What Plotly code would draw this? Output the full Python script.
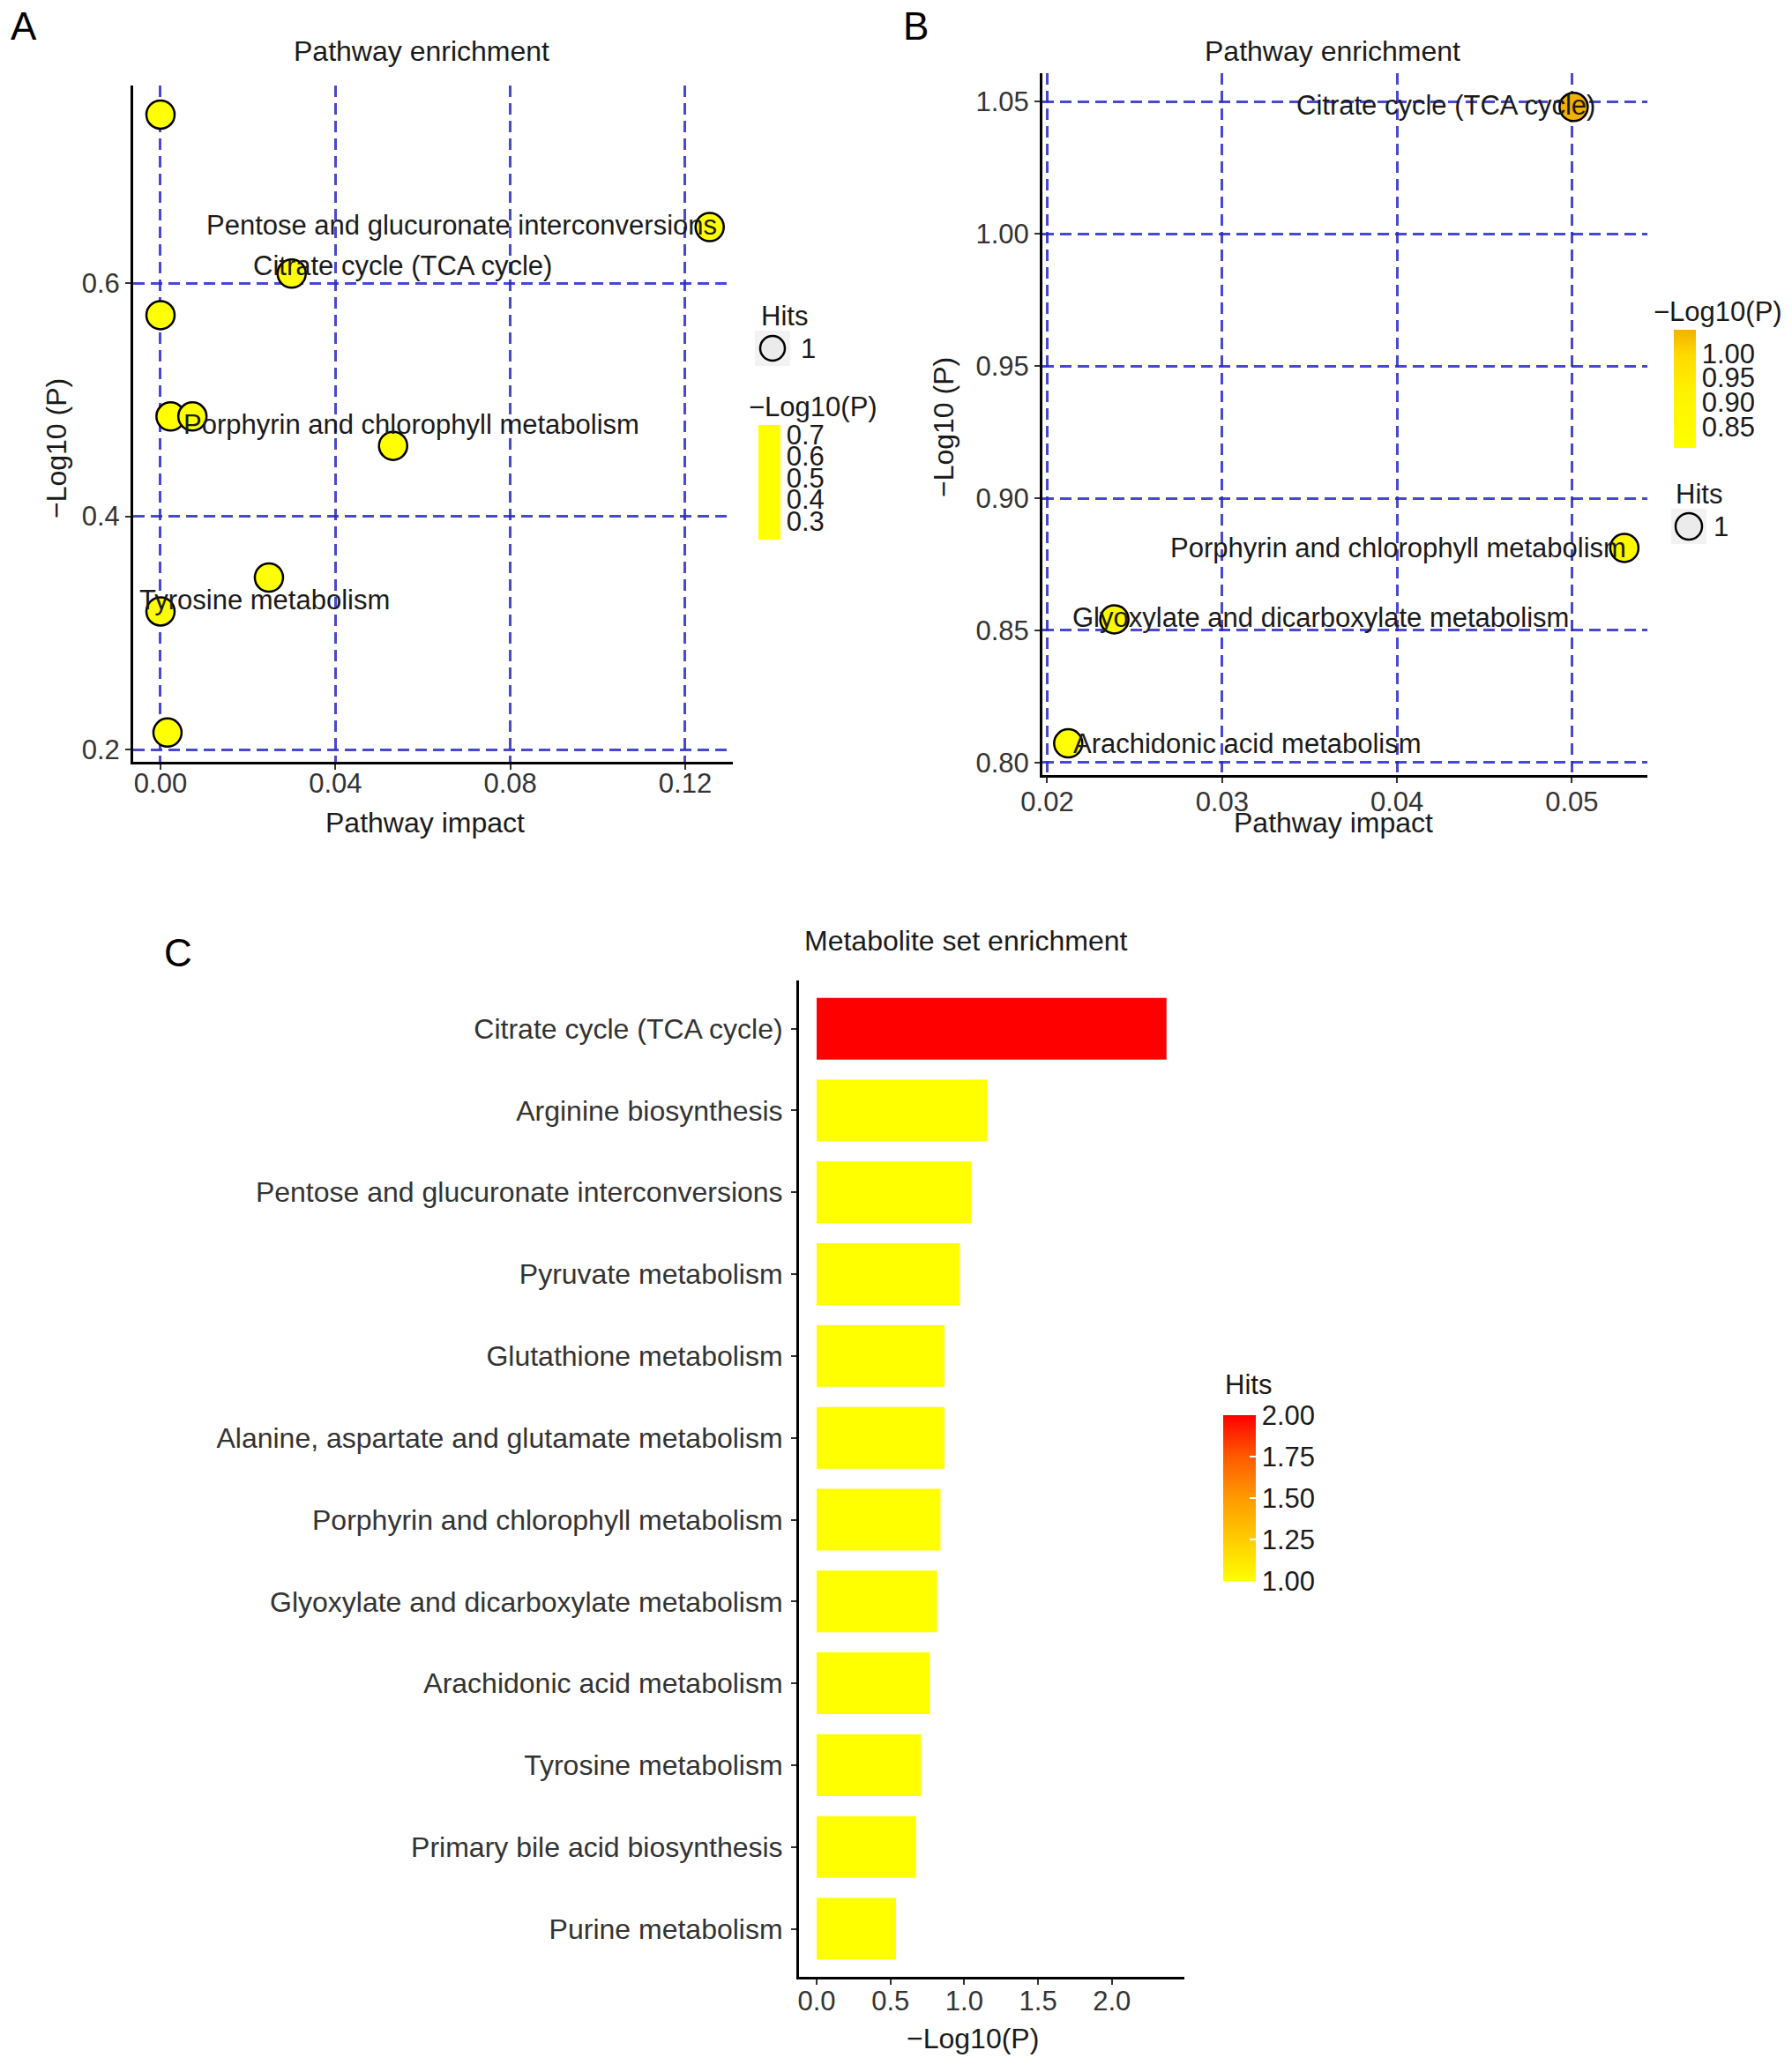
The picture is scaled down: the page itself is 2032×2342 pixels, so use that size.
import plotly.graph_objects as go

W, H = 2032, 2342
FONT = "Liberation Sans, Arial, Helvetica, sans-serif"

# ---------------- data ----------------
# Panel A: pathway enrichment (group 1)
a_impact = [0.0, 0.1256, 0.0300, 0.0, 0.0023, 0.0073, 0.0532, 0.0248, 0.0, 0.0016]
a_logp = [0.7445, 0.6480, 0.6081, 0.5725, 0.4856, 0.4856, 0.4604, 0.3475, 0.3184, 0.2145]
a_labels = ["", "Pentose and glucuronate interconversions", "Citrate cycle (TCA cycle)", "", "",
            "Porphyrin and chlorophyll metabolism", "", "", "Tyrosine metabolism", ""]
a_hits = [1, 1, 1, 1, 1, 1, 1, 1, 1, 1]
a_xticks = [0.00, 0.04, 0.08, 0.12]
a_xticktext = ["0.00", "0.04", "0.08", "0.12"]
a_yticks = [0.2, 0.4, 0.6]
a_yticktext = ["0.2", "0.4", "0.6"]
a_cbticks = [0.3, 0.4, 0.5, 0.6, 0.7]

# Panel B: pathway enrichment (group 2)
b_impact = [0.0501, 0.0530, 0.02384, 0.0212]
b_logp = [1.0479, 0.8812, 0.8542, 0.8073]
b_labels = ["Citrate cycle (TCA cycle)", "Porphyrin and chlorophyll metabolism",
            "Glyoxylate and dicarboxylate metabolism", "Arachidonic acid metabolism"]
b_hits = [1, 1, 1, 1]
b_xticks = [0.02, 0.03, 0.04, 0.05]
b_xticktext = ["0.02", "0.03", "0.04", "0.05"]
b_yticks = [0.80, 0.85, 0.90, 0.95, 1.00, 1.05]
b_yticktext = ["0.80", "0.85", "0.90", "0.95", "1.00", "1.05"]
b_cbticks = [0.85, 0.90, 0.95, 1.00]

# Panel C: metabolite set enrichment
c_sets = ["Citrate cycle (TCA cycle)", "Arginine biosynthesis",
          "Pentose and glucuronate interconversions", "Pyruvate metabolism",
          "Glutathione metabolism", "Alanine, aspartate and glutamate metabolism",
          "Porphyrin and chlorophyll metabolism", "Glyoxylate and dicarboxylate metabolism",
          "Arachidonic acid metabolism", "Tyrosine metabolism",
          "Primary bile acid biosynthesis", "Purine metabolism"]
c_logp = [2.37, 1.155, 1.048, 0.971, 0.866, 0.866, 0.839, 0.816, 0.766, 0.708, 0.673, 0.538]
c_hits = [2, 1, 1, 1, 1, 1, 1, 1, 1, 1, 1, 1]
c_xticks = [0.0, 0.5, 1.0, 1.5, 2.0]
c_xticktext = ["0.0", "0.5", "1.0", "1.5", "2.0"]
c_cbticks = [1.00, 1.25, 1.50, 1.75, 2.00]
c_cbticktext = ["1.00", "1.25", "1.50", "1.75", "2.00"]

# ---------------- helpers ----------------
def fx(p):
    return p / W


def fy(p):
    return 1 - p / H


GRID = "rgba(40,40,200,0.85)"
DASH = "13px,7px"
TICKC = "#333333"
TXT = "#1a1a1a"
FS = 31
MS = 32

fig = go.Figure()

# ----- Panel A scatter -----
fig.add_trace(go.Scatter(
    x=a_impact, y=a_logp, mode="markers", xaxis="x", yaxis="y",
    marker=dict(size=MS, color=a_logp, cmin=min(a_logp), cmax=max(a_logp),
                colorscale=[[0, "#FFFF00"], [1, "#FFFF00"]],
                line=dict(color="black", width=2.5),
                colorbar=dict(x=fx(860), xanchor="left", y=fy(482), yanchor="top",
                              lenmode="pixels", len=130, thickness=25,
                              xpad=0, ypad=0, outlinewidth=0,
                              tickvals=a_cbticks, ticktext=[str(v) for v in a_cbticks],
                              ticks="", tickfont=dict(size=FS, color=TXT, family=FONT))),
    showlegend=False, hoverinfo="skip"))

# ----- Panel B scatter -----
fig.add_trace(go.Scatter(
    x=b_impact, y=b_logp, mode="markers", xaxis="x2", yaxis="y2",
    marker=dict(size=MS, color=b_logp, cmin=min(b_logp), cmax=max(b_logp),
                colorscale=[[0, "#FFFF00"], [0.45, "#FFF300"], [0.78, "#FFDB00"], [1, "#F5B000"]],
                line=dict(color="black", width=2.5),
                colorbar=dict(x=fx(1898), xanchor="left", y=fy(374), yanchor="top",
                              lenmode="pixels", len=134, thickness=25,
                              xpad=0, ypad=0, outlinewidth=0,
                              tickvals=b_cbticks, ticktext=["%.2f" % v for v in b_cbticks],
                              ticks="", tickfont=dict(size=FS, color=TXT, family=FONT))),
    showlegend=False, hoverinfo="skip"))

# ----- Panel C bars -----
fig.add_trace(go.Bar(
    x=c_logp, y=c_sets, orientation="h", xaxis="x3", yaxis="y3", width=0.754,
    marker=dict(color=c_hits, cmin=1, cmax=2,
                colorscale=[[0, "#FFFF00"], [0.25, "#FFCC00"], [0.5, "#FF9A00"],
                            [0.75, "#FF5A00"], [1, "#FF0000"]],
                line=dict(width=0),
                colorbar=dict(x=fx(1387), xanchor="left", y=fy(1605), yanchor="top",
                              lenmode="pixels", len=188, thickness=37,
                              xpad=0, ypad=0, outlinewidth=0,
                              tickvals=c_cbticks, ticktext=c_cbticktext,
                              ticks="inside", ticklen=7, tickcolor="white", tickwidth=1.5,
                              tickfont=dict(size=FS, color=TXT, family=FONT))),
    showlegend=False, hoverinfo="skip"))

axis_common = dict(showline=True, linecolor="black", linewidth=3, mirror=False,
                   ticks="outside", ticklen=6, tickwidth=2, tickcolor="#333333",
                   tickfont=dict(size=FS, color=TICKC, family=FONT), zeroline=False,
                   automargin=False)

fig.update_layout(
    width=W, height=H, margin=dict(l=0, r=0, t=0, b=0, autoexpand=False),
    paper_bgcolor="white", plot_bgcolor="white",
    font=dict(family=FONT, color=TXT, size=FS),
    xaxis=dict(domain=[fx(151), fx(831)], range=[-0.00625, 0.1309], anchor="y",
               tickvals=a_xticks, ticktext=a_xticktext, ticklabelstandoff=-11,
               showgrid=True, gridcolor=GRID, gridwidth=2.5, griddash=DASH, **axis_common),
    yaxis=dict(domain=[fy(863.5), fy(97)], range=[0.1898, 0.7694], anchor="x",
               tickvals=a_yticks, ticktext=a_yticktext,
               showgrid=True, gridcolor=GRID, gridwidth=2.5, griddash=DASH, **axis_common),
    xaxis2=dict(domain=[fx(1182), fx(1868)], range=[0.019723, 0.054316], anchor="y2",
                tickvals=b_xticks, ticktext=b_xticktext, ticklabelstandoff=-6,
                showgrid=True, gridcolor=GRID, gridwidth=2.5, griddash=DASH, **axis_common),
    yaxis2=dict(domain=[fy(879.3), fy(83)], range=[0.79523, 1.06067], anchor="x2",
                tickvals=b_yticks, ticktext=b_yticktext,
                showgrid=True, gridcolor=GRID, gridwidth=2.5, griddash=DASH, **axis_common),
    xaxis3=dict(domain=[fx(906), fx(1343)], range=[-0.1195, 2.491], anchor="y3",
                tickvals=c_xticks, ticktext=c_xticktext, ticklabelstandoff=-8,
                showgrid=False, **axis_common),
    yaxis3=dict(domain=[fy(2242), fy(1112)], range=[11.587, -0.589], anchor="x3",
                type="category", categoryorder="array", categoryarray=c_sets,
                showgrid=False, ticklabelstandoff=3, **axis_common),
)
fig.update_yaxes(tickfont=dict(size=32, color=TICKC, family=FONT), selector=dict(anchor="x3"))

ann = []


def text(x, y, s, size=FS, xanchor="center", angle=0, color=TXT):
    ann.append(dict(x=fx(x), y=fy(y), xref="paper", yref="paper", text=s, showarrow=False,
                    xanchor=xanchor, yanchor="middle", textangle=angle,
                    font=dict(size=size, color=color, family=FONT)))


# panel letters
text(27, 30, "A", size=44, color="black")
text(1038, 30, "B", size=44, color="black")
text(202, 1080, "C", size=44, color="black")

# titles
text(478, 58, "Pathway enrichment", size=32)
text(1511, 58, "Pathway enrichment", size=32)
text(1095, 1067, "Metabolite set enrichment", size=32)

# axis titles
text(482, 933, "Pathway impact", size=32)
text(64, 509, "\u2212Log10 (P)", size=32, angle=-90)
text(1512, 933, "Pathway impact", size=32)
text(1070, 485, "\u2212Log10 (P)", size=32, angle=-90)
text(1103, 2312, "\u2212Log10(P)", size=32)

# legend titles
text(847, 462, "\u2212Log10(P)", xanchor="left")
text(861, 358, "Hits", xanchor="left")
text(1873, 353, "\u2212Log10(P)", xanchor="left")
text(1898, 560, "Hits", xanchor="left")
text(1387, 1570, "Hits", xanchor="left")
text(906, 395, "1", xanchor="left")
text(1941, 597, "1", xanchor="left")

# point labels (offsets in pixels from their points)
a_shift = {"Pentose and glucuronate interconversions": (-281, 2),
           "Citrate cycle (TCA cycle)": (126, 9),
           "Porphyrin and chlorophyll metabolism": (248, -9),
           "Tyrosine metabolism": (118, 13)}
for xv, yv, lab in zip(a_impact, a_logp, a_labels):
    if lab:
        dx, dy = a_shift[lab]
        ann.append(dict(x=xv, y=yv, xref="x", yref="y", text=lab, showarrow=False,
                        xshift=dx, yshift=dy, xanchor="center", yanchor="middle",
                        font=dict(size=31, color=TXT, family=FONT)))

b_shift = {"Citrate cycle (TCA cycle)": (-145, 2),
           "Porphyrin and chlorophyll metabolism": (-256, 0),
           "Glyoxylate and dicarboxylate metabolism": (234, 2),
           "Arachidonic acid metabolism": (203, 0)}
for xv, yv, lab in zip(b_impact, b_logp, b_labels):
    dx, dy = b_shift[lab]
    ann.append(dict(x=xv, y=yv, xref="x2", yref="y2", text=lab, showarrow=False,
                    xshift=dx, yshift=dy, xanchor="center", yanchor="middle",
                    font=dict(size=31, color=TXT, family=FONT)))

fig.update_layout(annotations=ann)

# size-legend keys (Hits = 1)
shapes = []
for cx, cy, r in [(876, 395, 14), (1915, 597, 15)]:
    shapes.append(dict(type="rect", xref="paper", yref="paper",
                       x0=fx(cx - 20), x1=fx(cx + 20), y0=fy(cy + 20), y1=fy(cy - 20),
                       fillcolor="#F2F2F2", line=dict(width=0), layer="below"))
    shapes.append(dict(type="circle", xref="paper", yref="paper",
                       x0=fx(cx - r), x1=fx(cx + r), y0=fy(cy + r), y1=fy(cy - r),
                       fillcolor="#EBEBEB", line=dict(color="black", width=2.5)))
fig.update_layout(shapes=shapes)

fig.write_html("out.html", config={"displayModeBar": False},
               post_script="document.body.style.margin='0';document.body.style.overflow='hidden';")
